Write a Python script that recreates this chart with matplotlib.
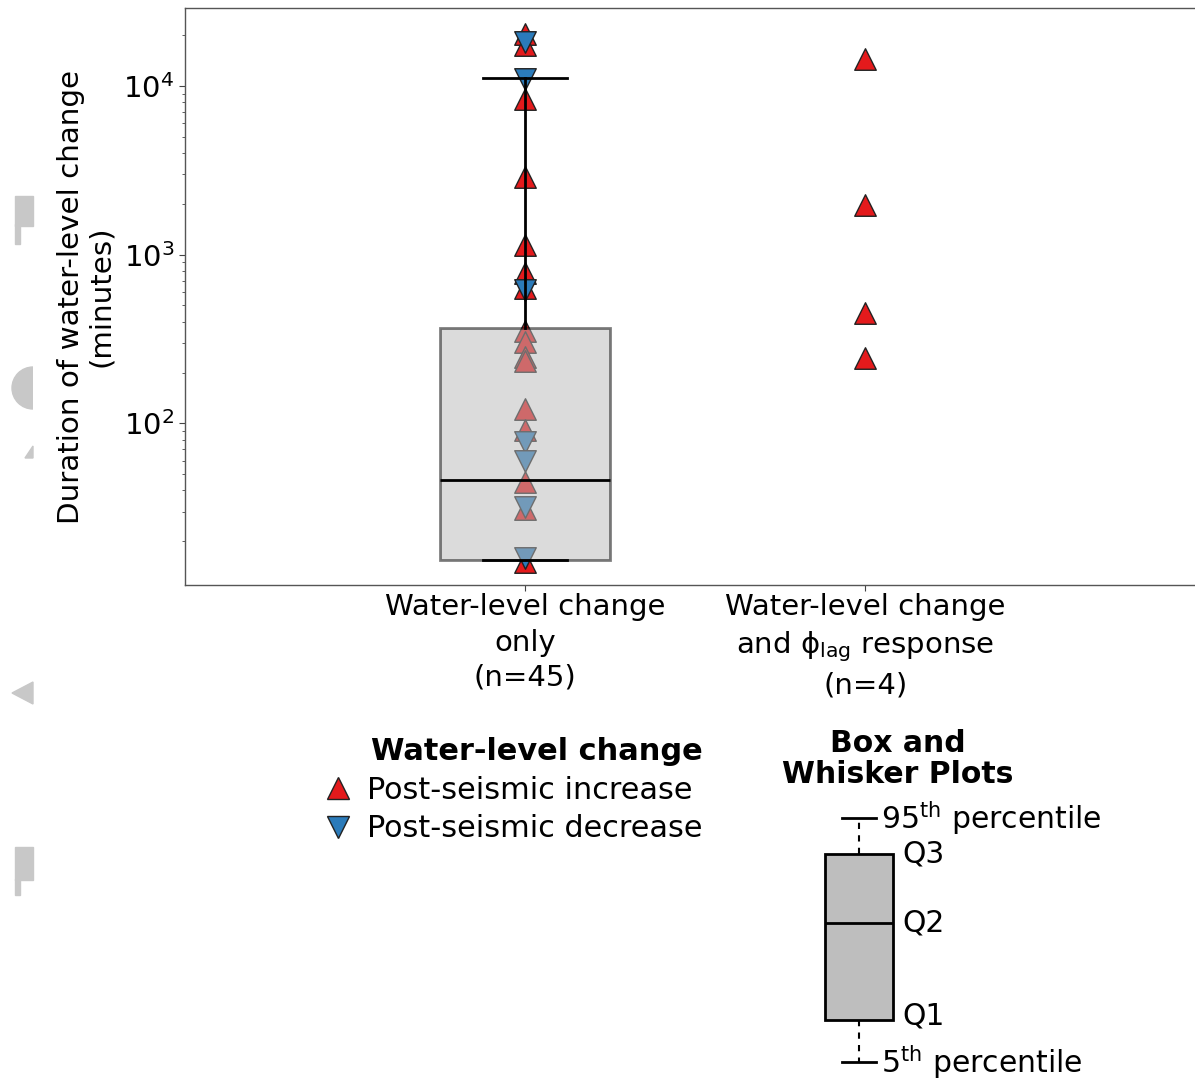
import matplotlib
matplotlib.use("Agg")
import matplotlib.pyplot as plt
from matplotlib.lines import Line2D
from matplotlib.patches import Polygon, Wedge, Rectangle
import numpy as np

plt.rcParams['font.family'] = ['DejaVu Sans']
plt.rcParams['mathtext.default'] = 'regular'

# ---- data ----
categories = ["Water-level change\nonly\n(n=45)",
              "Water-level change\nand \u03d5$_{lag}$ response\n(n=4)"]

# group 1: water-level change only
only_increase = [20200, 17400, 8430, 2885, 1140, 780, 637, 351, 302, 246, 233,
                 121, 91, 45, 31, 15.1]
only_decrease = [18200, 11000, 616, 77, 60, 32, 15.9]

# group 2: water-level change and phi_lag response (all increases)
lag_increase = [14500, 1980, 450, 243]

# box statistics of group 1 (5th pct, Q1, median, Q3, 95th pct)
box_p5, box_q1, box_med, box_q3, box_p95 = 15.4, 15.4, 46, 366, 11150

# schematic box for the key
key_p5, key_q1, key_med, key_q3, key_p95 = 0.0, 1.0, 3.3, 4.95, 5.8
key_labels = ["95$^{th}$ percentile", "Q3", "Q2", "Q1", "5$^{th}$ percentile"]

red = "#e41a1c"
blue = "#2b7bba"

W, H = 1195, 1079
fig = plt.figure(figsize=(W / 100, H / 100), dpi=100)

# main axes
ax = fig.add_axes([185 / W, 1 - 585 / H, 1 - 185 / W, (585 - 8) / H])
ax.set_yscale("log")

ax.scatter(np.zeros(len(only_increase)), only_increase, marker="^", s=240,
           c=red, edgecolors="#222222", linewidths=1.0, zorder=2)
ax.scatter(np.zeros(len(only_decrease)), only_decrease, marker="v", s=240,
           c=blue, edgecolors="#222222", linewidths=1.0, zorder=2)
ax.scatter(np.ones(len(lag_increase)), lag_increase, marker="^", s=240,
           c=red, edgecolors="#222222", linewidths=1.0, zorder=2)

stats = [dict(whislo=box_p5, q1=box_q1, med=box_med, q3=box_q3, whishi=box_p95)]
ax.bxp(stats, positions=[0], widths=0.5, capwidths=0.245, showfliers=False,
       patch_artist=True,
       boxprops=dict(facecolor="#b9b9b9", edgecolor="black", alpha=0.5, linewidth=2),
       medianprops=dict(color="black", linewidth=2),
       whiskerprops=dict(color="black", linewidth=2),
       capprops=dict(color="black", linewidth=2),
       zorder=3)

ax.set_xlim(-1, 1.97)
ax.set_ylim(11, 29000)
ax.set_xticks([0, 1])
ax.set_xticklabels(categories, fontsize=21, linespacing=1.33)
ax.tick_params(axis="y", labelsize=21, length=4, width=0.8, color="#444444")
ax.tick_params(axis="y", which="minor", length=2, width=0.6, color="#444444")
ax.tick_params(axis="x", length=4, width=0.8, color="#444444", pad=2)
ax.set_ylabel("Duration of water-level change\n(minutes)", fontsize=21.2,
              labelpad=6, linespacing=1.1)
for side in ["left", "bottom", "top"]:
    ax.spines[side].set_color("#555555")
    ax.spines[side].set_linewidth(1.0)
ax.spines["right"].set_visible(False)

# legend for the markers
handles = [Line2D([], [], marker="^", linestyle="none", markersize=15.5,
                  markerfacecolor=red, markeredgecolor="#222222"),
           Line2D([], [], marker="v", linestyle="none", markersize=15.5,
                  markerfacecolor=blue, markeredgecolor="#222222")]
leg = fig.legend(handles, ["Post-seismic increase", "Post-seismic decrease"],
                 title="Water-level change", loc="upper left",
                 bbox_to_anchor=(323 / W, 1 - 737 / H), frameon=False,
                 fontsize=21.8, title_fontproperties=dict(weight="bold", size=21.9),
                 handlelength=1.0, handletextpad=0.45, labelspacing=0.32,
                 borderpad=0, borderaxespad=0, alignment="right")

# key explaining the box plot
fig.text(898 / W, 1 - 759 / H, "Box and\nWhisker Plots", fontsize=21.5,
         fontweight="bold", ha="center", va="center", linespacing=1.1)

kax = fig.add_axes([790 / W, 0, 210 / W, 279 / H])
kax.set_xlim(-1.015, 2.074)
kax.set_ylim(-0.405, 6.238)
kax.axis("off")
kstats = [dict(whislo=key_p5, q1=key_q1, med=key_med, q3=key_q3, whishi=key_p95)]
kax.bxp(kstats, positions=[0], widths=1.0, capwidths=0.49, showfliers=False,
        patch_artist=True,
        boxprops=dict(facecolor="#bebebe", edgecolor="black", linewidth=2),
        medianprops=dict(color="black", linewidth=2),
        whiskerprops=dict(color="black", linewidth=1.5, linestyle=(0, (3, 3))),
        capprops=dict(color="black", linewidth=2))
kax.text(0.33, key_p95, key_labels[0], fontsize=21.5, ha="left", va="center")
kax.text(0.64, key_q3, key_labels[1], fontsize=21.5, ha="left", va="center")
kax.text(0.64, key_med, key_labels[2], fontsize=21.5, ha="left", va="center")
kax.text(0.64, key_q1 + 0.1, key_labels[3], fontsize=21.5, ha="left", va="center")
kax.text(0.33, key_p5, key_labels[4], fontsize=21.5, ha="left", va="center")

# light grey fragments of a neighbouring panel at the left edge
grey = "#c8c8c8"
fig.patches.append(Rectangle((15 / W, 1 - 226 / H), 18 / W, 30 / H, color=grey,
                             transform=fig.transFigure))
fig.patches.append(Rectangle((15 / W, 1 - 244 / H), 5 / W, 20 / H, color=grey,
                             transform=fig.transFigure))
fig.patches.append(Polygon([(12 / W, 1 - 693 / H), (33 / W, 1 - 682 / H),
                            (33 / W, 1 - 704 / H)], color=grey,
                           transform=fig.transFigure))
fig.patches.append(Polygon([(25 / W, 1 - 458 / H), (33 / W, 1 - 446 / H),
                            (33 / W, 1 - 458 / H)], color=grey,
                           transform=fig.transFigure))
fig.patches.append(Rectangle((15 / W, 1 - 880 / H), 18 / W, 33 / H, color=grey,
                             transform=fig.transFigure))
fig.patches.append(Rectangle((15 / W, 1 - 895 / H), 5 / W, 16 / H, color=grey,
                             transform=fig.transFigure))
sax = fig.add_axes([0, 1 - 410 / H, 33 / W, 45 / H])
sax.set_xlim(0, 33)
sax.set_ylim(0, 45)
sax.axis("off")
sax.add_patch(Wedge((33, 22), 21, 90, 270, color=grey))

fig.savefig("out.png", dpi=100)
